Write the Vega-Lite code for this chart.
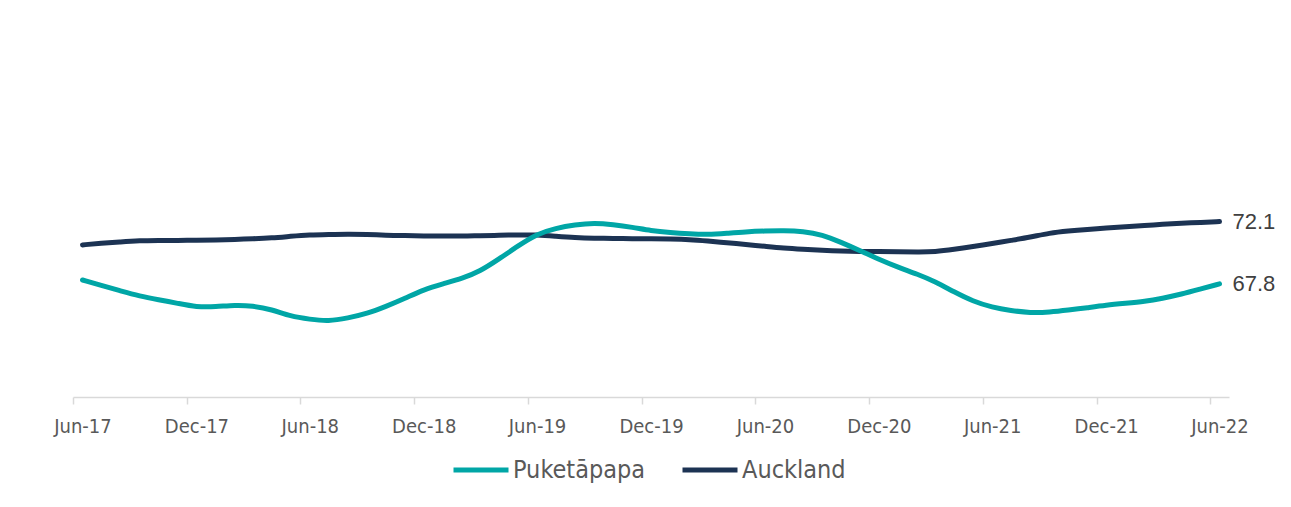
{
  "$schema": "https://vega.github.io/schema/vega-lite/v6.json",
  "width": 1156,
  "height": 290,
  "autosize": {"type": "none"},
  "padding": {"left": 73, "top": 107, "right": 62, "bottom": 110},
  "background": "white",
  "config": {"view": {"stroke": null}},
  "data": {"values": [
    {"date": "2017-06-01T00:00", "series": "Auckland", "value": 70.49},
    {"date": "2017-07-01T00:00", "series": "Auckland", "value": 70.6},
    {"date": "2017-08-01T00:00", "series": "Auckland", "value": 70.7},
    {"date": "2017-09-01T00:00", "series": "Auckland", "value": 70.78},
    {"date": "2017-10-01T00:00", "series": "Auckland", "value": 70.79},
    {"date": "2017-11-01T00:00", "series": "Auckland", "value": 70.8},
    {"date": "2017-12-01T00:00", "series": "Auckland", "value": 70.82},
    {"date": "2018-01-01T00:00", "series": "Auckland", "value": 70.83},
    {"date": "2018-02-01T00:00", "series": "Auckland", "value": 70.87},
    {"date": "2018-03-01T00:00", "series": "Auckland", "value": 70.91},
    {"date": "2018-04-01T00:00", "series": "Auckland", "value": 70.97},
    {"date": "2018-05-01T00:00", "series": "Auckland", "value": 71.08},
    {"date": "2018-06-01T00:00", "series": "Auckland", "value": 71.18},
    {"date": "2018-07-01T00:00", "series": "Auckland", "value": 71.21},
    {"date": "2018-08-01T00:00", "series": "Auckland", "value": 71.24},
    {"date": "2018-09-01T00:00", "series": "Auckland", "value": 71.22},
    {"date": "2018-10-01T00:00", "series": "Auckland", "value": 71.15},
    {"date": "2018-11-01T00:00", "series": "Auckland", "value": 71.13},
    {"date": "2018-12-01T00:00", "series": "Auckland", "value": 71.11},
    {"date": "2019-01-01T00:00", "series": "Auckland", "value": 71.1},
    {"date": "2019-02-01T00:00", "series": "Auckland", "value": 71.09},
    {"date": "2019-03-01T00:00", "series": "Auckland", "value": 71.13},
    {"date": "2019-04-01T00:00", "series": "Auckland", "value": 71.15},
    {"date": "2019-05-01T00:00", "series": "Auckland", "value": 71.18},
    {"date": "2019-06-01T00:00", "series": "Auckland", "value": 71.18},
    {"date": "2019-07-01T00:00", "series": "Auckland", "value": 71.09},
    {"date": "2019-08-01T00:00", "series": "Auckland", "value": 71.0},
    {"date": "2019-09-01T00:00", "series": "Auckland", "value": 70.95},
    {"date": "2019-10-01T00:00", "series": "Auckland", "value": 70.93},
    {"date": "2019-11-01T00:00", "series": "Auckland", "value": 70.92},
    {"date": "2019-12-01T00:00", "series": "Auckland", "value": 70.91},
    {"date": "2020-01-01T00:00", "series": "Auckland", "value": 70.89},
    {"date": "2020-02-01T00:00", "series": "Auckland", "value": 70.86},
    {"date": "2020-03-01T00:00", "series": "Auckland", "value": 70.76},
    {"date": "2020-04-01T00:00", "series": "Auckland", "value": 70.64},
    {"date": "2020-05-01T00:00", "series": "Auckland", "value": 70.52},
    {"date": "2020-06-01T00:00", "series": "Auckland", "value": 70.39},
    {"date": "2020-07-01T00:00", "series": "Auckland", "value": 70.26},
    {"date": "2020-08-01T00:00", "series": "Auckland", "value": 70.18},
    {"date": "2020-09-01T00:00", "series": "Auckland", "value": 70.11},
    {"date": "2020-10-01T00:00", "series": "Auckland", "value": 70.06},
    {"date": "2020-11-01T00:00", "series": "Auckland", "value": 70.04},
    {"date": "2020-12-01T00:00", "series": "Auckland", "value": 70.03},
    {"date": "2021-01-01T00:00", "series": "Auckland", "value": 70.02},
    {"date": "2021-02-01T00:00", "series": "Auckland", "value": 70.0},
    {"date": "2021-03-01T00:00", "series": "Auckland", "value": 70.01},
    {"date": "2021-04-01T00:00", "series": "Auckland", "value": 70.18},
    {"date": "2021-05-01T00:00", "series": "Auckland", "value": 70.38},
    {"date": "2021-06-01T00:00", "series": "Auckland", "value": 70.58},
    {"date": "2021-07-01T00:00", "series": "Auckland", "value": 70.8},
    {"date": "2021-08-01T00:00", "series": "Auckland", "value": 71.02},
    {"date": "2021-09-01T00:00", "series": "Auckland", "value": 71.31},
    {"date": "2021-10-01T00:00", "series": "Auckland", "value": 71.45},
    {"date": "2021-11-01T00:00", "series": "Auckland", "value": 71.56},
    {"date": "2021-12-01T00:00", "series": "Auckland", "value": 71.66},
    {"date": "2022-01-01T00:00", "series": "Auckland", "value": 71.74},
    {"date": "2022-02-01T00:00", "series": "Auckland", "value": 71.83},
    {"date": "2022-03-01T00:00", "series": "Auckland", "value": 71.91},
    {"date": "2022-04-01T00:00", "series": "Auckland", "value": 71.98},
    {"date": "2022-05-01T00:00", "series": "Auckland", "value": 72.04},
    {"date": "2022-06-01T00:00", "series": "Auckland", "value": 72.1},
    {"date": "2017-06-01T00:00", "series": "Puketāpapa", "value": 68.07},
    {"date": "2017-07-01T00:00", "series": "Puketāpapa", "value": 67.69},
    {"date": "2017-08-01T00:00", "series": "Puketāpapa", "value": 67.32},
    {"date": "2017-09-01T00:00", "series": "Puketāpapa", "value": 66.96},
    {"date": "2017-10-01T00:00", "series": "Puketāpapa", "value": 66.71},
    {"date": "2017-11-01T00:00", "series": "Puketāpapa", "value": 66.46},
    {"date": "2017-12-01T00:00", "series": "Puketāpapa", "value": 66.2},
    {"date": "2018-01-01T00:00", "series": "Puketāpapa", "value": 66.22},
    {"date": "2018-02-01T00:00", "series": "Puketāpapa", "value": 66.34},
    {"date": "2018-03-01T00:00", "series": "Puketāpapa", "value": 66.29},
    {"date": "2018-04-01T00:00", "series": "Puketāpapa", "value": 66.04},
    {"date": "2018-05-01T00:00", "series": "Puketāpapa", "value": 65.56},
    {"date": "2018-06-01T00:00", "series": "Puketāpapa", "value": 65.36},
    {"date": "2018-07-01T00:00", "series": "Puketāpapa", "value": 65.22},
    {"date": "2018-08-01T00:00", "series": "Puketāpapa", "value": 65.44},
    {"date": "2018-09-01T00:00", "series": "Puketāpapa", "value": 65.75},
    {"date": "2018-10-01T00:00", "series": "Puketāpapa", "value": 66.24},
    {"date": "2018-11-01T00:00", "series": "Puketāpapa", "value": 66.8},
    {"date": "2018-12-01T00:00", "series": "Puketāpapa", "value": 67.41},
    {"date": "2019-01-01T00:00", "series": "Puketāpapa", "value": 67.81},
    {"date": "2019-02-01T00:00", "series": "Puketāpapa", "value": 68.18},
    {"date": "2019-03-01T00:00", "series": "Puketāpapa", "value": 68.66},
    {"date": "2019-04-01T00:00", "series": "Puketāpapa", "value": 69.52},
    {"date": "2019-05-01T00:00", "series": "Puketāpapa", "value": 70.41},
    {"date": "2019-06-01T00:00", "series": "Puketāpapa", "value": 71.25},
    {"date": "2019-07-01T00:00", "series": "Puketāpapa", "value": 71.64},
    {"date": "2019-08-01T00:00", "series": "Puketāpapa", "value": 71.88},
    {"date": "2019-09-01T00:00", "series": "Puketāpapa", "value": 72.0},
    {"date": "2019-10-01T00:00", "series": "Puketāpapa", "value": 71.89},
    {"date": "2019-11-01T00:00", "series": "Puketāpapa", "value": 71.71},
    {"date": "2019-12-01T00:00", "series": "Puketāpapa", "value": 71.47},
    {"date": "2020-01-01T00:00", "series": "Puketāpapa", "value": 71.34},
    {"date": "2020-02-01T00:00", "series": "Puketāpapa", "value": 71.25},
    {"date": "2020-03-01T00:00", "series": "Puketāpapa", "value": 71.19},
    {"date": "2020-04-01T00:00", "series": "Puketāpapa", "value": 71.29},
    {"date": "2020-05-01T00:00", "series": "Puketāpapa", "value": 71.39},
    {"date": "2020-06-01T00:00", "series": "Puketāpapa", "value": 71.45},
    {"date": "2020-07-01T00:00", "series": "Puketāpapa", "value": 71.47},
    {"date": "2020-08-01T00:00", "series": "Puketāpapa", "value": 71.43},
    {"date": "2020-09-01T00:00", "series": "Puketāpapa", "value": 71.2},
    {"date": "2020-10-01T00:00", "series": "Puketāpapa", "value": 70.67},
    {"date": "2020-11-01T00:00", "series": "Puketāpapa", "value": 70.09},
    {"date": "2020-12-01T00:00", "series": "Puketāpapa", "value": 69.49},
    {"date": "2021-01-01T00:00", "series": "Puketāpapa", "value": 68.94},
    {"date": "2021-02-01T00:00", "series": "Puketāpapa", "value": 68.47},
    {"date": "2021-03-01T00:00", "series": "Puketāpapa", "value": 67.96},
    {"date": "2021-04-01T00:00", "series": "Puketāpapa", "value": 67.24},
    {"date": "2021-05-01T00:00", "series": "Puketāpapa", "value": 66.6},
    {"date": "2021-06-01T00:00", "series": "Puketāpapa", "value": 66.18},
    {"date": "2021-07-01T00:00", "series": "Puketāpapa", "value": 65.96},
    {"date": "2021-08-01T00:00", "series": "Puketāpapa", "value": 65.8},
    {"date": "2021-09-01T00:00", "series": "Puketāpapa", "value": 65.85},
    {"date": "2021-10-01T00:00", "series": "Puketāpapa", "value": 65.99},
    {"date": "2021-11-01T00:00", "series": "Puketāpapa", "value": 66.16},
    {"date": "2021-12-01T00:00", "series": "Puketāpapa", "value": 66.33},
    {"date": "2022-01-01T00:00", "series": "Puketāpapa", "value": 66.46},
    {"date": "2022-02-01T00:00", "series": "Puketāpapa", "value": 66.59},
    {"date": "2022-03-01T00:00", "series": "Puketāpapa", "value": 66.8},
    {"date": "2022-04-01T00:00", "series": "Puketāpapa", "value": 67.09},
    {"date": "2022-05-01T00:00", "series": "Puketāpapa", "value": 67.44},
    {"date": "2022-06-01T00:00", "series": "Puketāpapa", "value": 67.8}
  ]},
  "layer": [
    {
      "mark": {"type": "line", "strokeWidth": 5, "strokeCap": "round", "strokeJoin": "round", "interpolate": "basis"},
      "encoding": {
        "x": {
          "field": "date", "type": "temporal",
          "scale": {"domain": [{"year": 2017, "month": 5, "date": 16, "hours": 18}, {"year": 2022, "month": 6, "date": 16, "hours": 6}]},
          "axis": {
            "title": null, "grid": false, "format": "%b-%y", "labelFlush": false,
            "values": [
              {"year": 2017, "month": 6, "date": 1}, {"year": 2017, "month": 12, "date": 1},
              {"year": 2018, "month": 6, "date": 1}, {"year": 2018, "month": 12, "date": 1},
              {"year": 2019, "month": 6, "date": 1}, {"year": 2019, "month": 12, "date": 1},
              {"year": 2020, "month": 6, "date": 1}, {"year": 2020, "month": 12, "date": 1},
              {"year": 2021, "month": 6, "date": 1}, {"year": 2021, "month": 12, "date": 1},
              {"year": 2022, "month": 6, "date": 1}
            ],
            "tickOffset": -9.5, "labelOffset": 9.5,
            "domainColor": "#d9d9d9", "domainWidth": 1.5,
            "tickColor": "#d9d9d9", "tickWidth": 1.5, "tickSize": 7,
            "labelColor": "#595959", "labelFontSize": 20, "labelPadding": 12,
            "labelFont": "Liberation Sans Narrow, DejaVu Sans Condensed, Liberation Sans"
          }
        },
        "y": {"field": "value", "type": "quantitative", "scale": {"domain": [60, 80]}, "axis": null},
        "color": {
          "field": "series", "type": "nominal",
          "scale": {"domain": ["Puketāpapa", "Auckland"], "range": ["#00a6a6", "#1c3353"]},
          "legend": {
            "orient": "none", "legendX": 378, "legendY": 333, "direction": "horizontal", "title": null,
            "symbolType": "stroke", "symbolSize": 3025, "symbolStrokeWidth": 5,
            "labelFontSize": 25, "labelColor": "#595959",
            "labelFont": "Liberation Sans Narrow, DejaVu Sans Condensed, Liberation Sans",
            "columnPadding": 26, "labelOffset": 2
          }
        }
      }
    },
    {
      "transform": [{"filter": "year(datum.date) == 2022 && month(datum.date) == 5"}],
      "mark": {"type": "text", "align": "left", "baseline": "middle", "dx": 13, "fontSize": 22, "color": "#404040", "font": "Liberation Sans"},
      "encoding": {
        "x": {"field": "date", "type": "temporal"},
        "y": {"field": "value", "type": "quantitative"},
        "text": {"field": "value", "type": "quantitative", "format": ".1f"}
      }
    }
  ]
}
